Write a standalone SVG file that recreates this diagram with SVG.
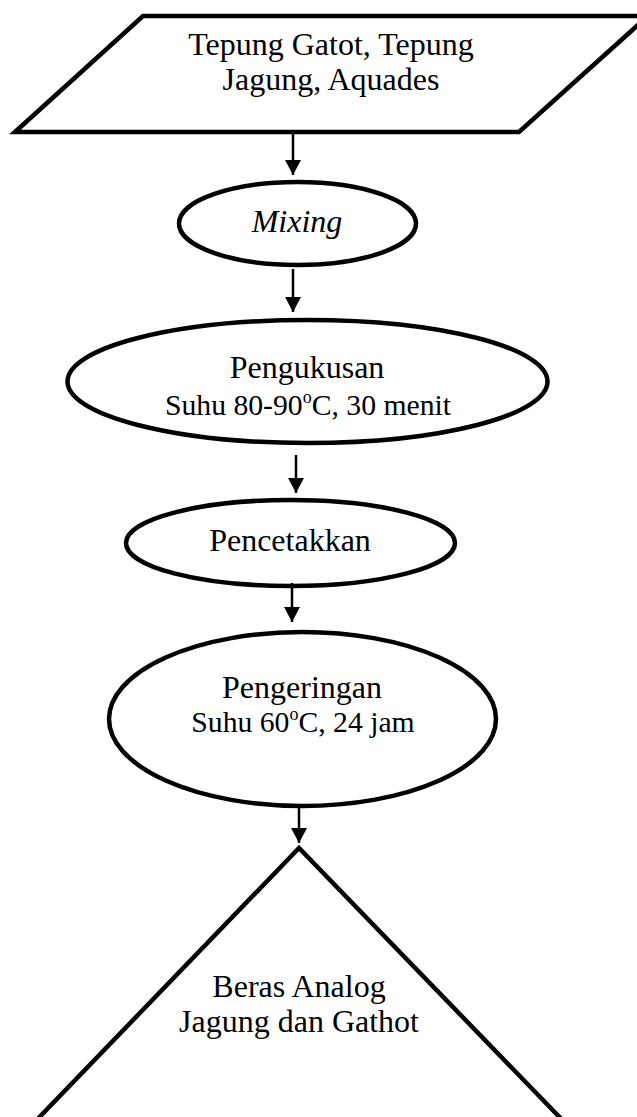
<svg xmlns="http://www.w3.org/2000/svg" width="637" height="1117" viewBox="0 0 637 1117">
<defs>
<marker id="ah" markerWidth="16" markerHeight="16" viewBox="0 0 16 16" refX="15" refY="8" orient="auto" markerUnits="userSpaceOnUse">
<path d="M0,0 L15,8 L0,16 Z" fill="#000"/>
</marker>
</defs>
<style>
.shape{fill:#fff;stroke:#000;stroke-width:4.5;stroke-linejoin:miter}
.t1{font-family:"Liberation Serif","Times New Roman",serif;font-size:32px;fill:#000;text-anchor:middle}
.t2{font-family:"Liberation Serif","Times New Roman",serif;font-size:29.7px;fill:#000;text-anchor:middle}
.conn{stroke:#000;stroke-width:2.5;fill:none;marker-end:url(#ah)}
</style>
<rect width="637" height="1117" fill="#fff"/>
<g id="input">
<polygon class="shape" points="15,132 143,16 648,16 519,132"/>
<text class="t1" x="331" y="55">Tepung Gatot, Tepung</text>
<text class="t1" x="331" y="90">Jagung, Aquades</text>
</g>
<g id="mixing">
<ellipse class="shape" cx="297.5" cy="223.5" rx="118.5" ry="41.5"/>
<text class="t1" x="297" y="232" font-style="italic">Mixing</text>
</g>
<g id="pengukusan">
<ellipse class="shape" cx="307.5" cy="381.5" rx="240" ry="61.5"/>
<text class="t1" x="307" y="378">Pengukusan</text>
<text class="t2" x="308" y="415">Suhu 80-90<tspan font-size="18" dy="-12">o</tspan><tspan dy="12">C, 30 menit</tspan></text>
</g>
<g id="pencetakkan">
<ellipse class="shape" cx="290.5" cy="543" rx="164.5" ry="43"/>
<text class="t1" x="290" y="551">Pencetakkan</text>
</g>
<g id="pengeringan">
<ellipse class="shape" cx="302.5" cy="719" rx="193.5" ry="87"/>
<text class="t1" x="302" y="698">Pengeringan</text>
<text class="t2" x="303" y="732">Suhu 60<tspan font-size="18" dy="-12">o</tspan><tspan dy="12">C, 24 jam</tspan></text>
</g>
<g id="output">
<polygon class="shape" points="299,848 27,1130 572,1130"/>
<text class="t1" x="299" y="997">Beras Analog</text>
<text class="t1" x="299" y="1032">Jagung dan Gathot</text>
</g>
<g id="connectors">
<line class="conn" x1="293" y1="134" x2="293" y2="175"/>
<line class="conn" x1="293" y1="269" x2="293" y2="312"/>
<line class="conn" x1="296" y1="455" x2="296" y2="493"/>
<line class="conn" x1="292" y1="583" x2="292" y2="622"/>
<line class="conn" x1="299" y1="807" x2="299" y2="843"/>
</g>
</svg>
